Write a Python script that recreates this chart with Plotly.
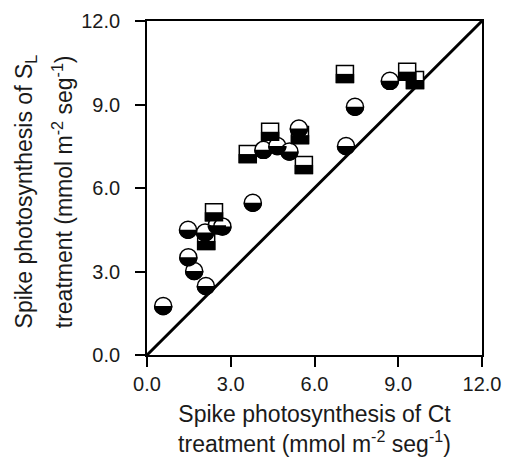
import numpy as np
import plotly.graph_objects as go

# ---- data ----
circle_x = [0.58, 1.47, 1.48, 1.69, 2.11, 2.50, 2.08, 2.70, 3.79, 4.17, 4.67, 5.10, 5.44, 7.13, 7.45, 8.70]
circle_y = [1.76, 4.50, 3.51, 3.02, 2.48, 4.66, 4.40, 4.62, 5.47, 7.37, 7.51, 7.31, 8.14, 7.51, 8.92, 9.85]
square_x = [2.12, 2.40, 3.61, 4.41, 5.48, 5.62, 7.09, 9.60, 9.32]
square_y = [4.10, 5.13, 7.22, 8.02, 7.90, 6.83, 10.10, 9.88, 10.18]
line_x = [0, 12]
line_y = [0, 12]
tick_vals = [0, 3, 6, 9, 12]
tick_text = ["0.0", "3.0", "6.0", "9.0", "12.0"]
x_title = "Spike photosynthesis of Ct<br>treatment (mmol m<sup>-2</sup> seg<sup>-1</sup>)"
y_title_1 = "Spike photosynthesis of S<sub>L</sub>"
y_title_2 = "treatment (mmol m<sup>-2</sup> seg<sup>-1</sup>)"

FONT = "Arial, Liberation Sans, sans-serif"
TXT = "#1a1a1a"
MSIZE = 17
MLW = 1.5
R = MSIZE / 2 + MLW / 2

fig = go.Figure()
fig.add_trace(go.Scatter(x=line_x, y=line_y, mode="lines",
                         line=dict(color="black", width=3), hoverinfo="skip",
                         showlegend=False, cliponaxis=False))
fig.add_trace(go.Scatter(x=square_x, y=square_y, mode="markers",
                         marker=dict(symbol="square", size=MSIZE, color="white",
                                     line=dict(color="black", width=MLW)),
                         showlegend=False, cliponaxis=False))
fig.add_trace(go.Scatter(x=circle_x, y=circle_y, mode="markers",
                         marker=dict(symbol="circle", size=MSIZE, color="white",
                                     line=dict(color="black", width=MLW)),
                         showlegend=False, cliponaxis=False))

# lower black halves, sized in pixels and anchored at the data points
t = np.linspace(np.pi, 2 * np.pi, 25)
half_path = "M " + " L ".join(f"{R*np.cos(a):.2f},{R*np.sin(a):.2f}" for a in t) + " Z"
shapes = []
for xv, yv in zip(square_x, square_y):
    shapes.append(dict(type="rect", xref="x", yref="y", xsizemode="pixel", ysizemode="pixel",
                       xanchor=xv, yanchor=yv, x0=-R, x1=R, y0=-R, y1=0,
                       fillcolor="black", line=dict(width=0)))
for xv, yv in zip(circle_x, circle_y):
    shapes.append(dict(type="path", xref="x", yref="y", xsizemode="pixel", ysizemode="pixel",
                       xanchor=xv, yanchor=yv, path=half_path,
                       fillcolor="black", line=dict(width=0)))

axis_common = dict(range=[0, 12], tickvals=tick_vals,
                   showgrid=False, zeroline=False, showline=True, linecolor="black",
                   linewidth=1.5, mirror=True, ticks="outside", ticklen=10,
                   tickwidth=1.5, tickcolor="black", automargin=False,
                   tickfont=dict(family=FONT, size=20, color=TXT))

annotations = [
    dict(text=y_title_1, xref="paper", yref="paper", x=-0.364, y=0.49, xanchor="center",
         yanchor="middle", textangle=-90, showarrow=False,
         font=dict(family=FONT, size=23, color=TXT)),
    dict(text=y_title_2, xref="paper", yref="paper", x=-0.251, y=0.49, xanchor="center",
         yanchor="middle", textangle=-90, showarrow=False,
         font=dict(family=FONT, size=23, color=TXT)),
]

fig.update_layout(
    width=505, height=457,
    margin=dict(l=147, r=23, t=21, b=102),
    plot_bgcolor="white", paper_bgcolor="white",
    shapes=shapes, annotations=annotations,
    xaxis=dict(axis_common, ticktext=tick_text,
               title=dict(text=x_title, font=dict(family=FONT, size=23, color=TXT), standoff=17)),
    # y labels padded on the right to leave the same gap to the ticks as the reference
    yaxis=dict(axis_common, ticktext=[s + "\u00a0\u00a0" for s in tick_text]),
)

# remove the browser's default 8px page margin so the figure fills the window
fig.write_html("out.html", config={"displayModeBar": False},
               post_script="document.body.style.margin='0';document.body.style.overflow='hidden';")
